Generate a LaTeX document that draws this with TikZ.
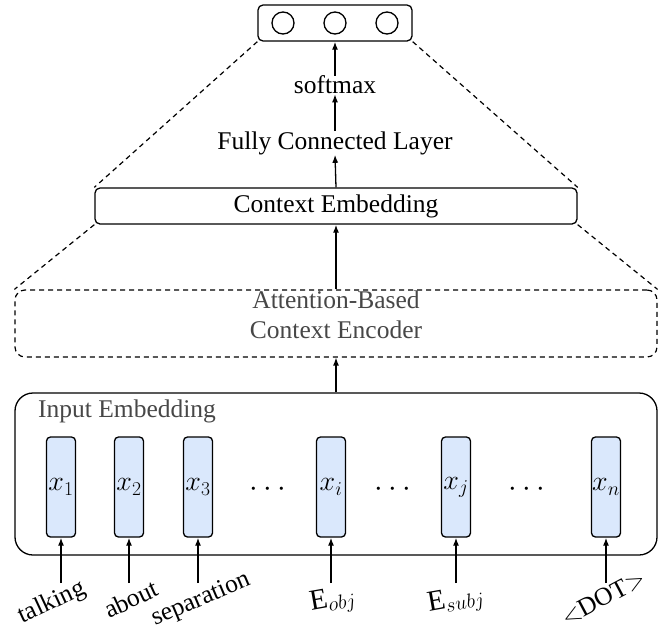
\RequirePackage{fix-cm}
\documentclass[tikz,border=0pt]{standalone}
\usepackage{fontspec}
\setmainfont{Liberation Serif}
\usetikzlibrary{arrows.meta}
\definecolor{tokfill}{HTML}{DAE8FC}
\definecolor{graytext}{HTML}{474747}
\tikzset{
  conn/.style={-{Latex[length=8pt,width=6pt]}, line width=1.3pt},
  dashline/.style={line width=1.2pt, dash pattern=on 5pt off 4pt},
  solidbox/.style={draw, line width=1.3pt, rounded corners=5pt, inner sep=0pt, fill=white},
  tokbox/.style={draw, line width=1.3pt, rounded corners=4pt, fill=tokfill, minimum width=29pt, minimum height=100pt, inner sep=0pt, font=\fontsize{28}{32}\selectfont},
  outcirc/.style={draw, circle, line width=1.3pt, minimum size=22pt, inner sep=0pt},
  lbl/.style={inner sep=0pt},
  biglbl/.style={inner sep=0pt, font=\fontsize{29}{32}\selectfont},
  dotsnode/.style={inner sep=0pt, font=\fontsize{31}{34}\selectfont},
}
\begin{document}
\begin{tikzpicture}[x=1pt, y=-1pt, font=\fontsize{25.5}{30}\selectfont]
\useasboundingbox (0,0) rectangle (672,630);

% output box
\node[solidbox, minimum width=154pt, minimum height=36pt] (out) at (335,23) {};
\node[outcirc] (c1) at (283,23) {};
\node[outcirc] (c2) at (335,23) {};
\node[outcirc] (c3) at (387,23) {};

\node[lbl] (sm) at (335,85) {softmax};
\node[lbl] (fc) at (335,143) {Fully Connected Layer};

\node[solidbox, minimum width=482pt, minimum height=36pt] (ce) at (336,206) {Context Embedding};

\node[draw, dashline, rounded corners=10pt, minimum width=642pt, minimum height=67pt, inner sep=0pt] (enc) at (336,323.5) {};
\node[lbl, align=center, text=graytext] (enct) at (336,315) {Attention-Based\\Context Encoder};

\node[draw, line width=1.3pt, rounded corners=18pt, minimum width=642pt, minimum height=162pt, inner sep=0pt] (inp) at (336,474) {};
\node[lbl, text=graytext, anchor=west] (inpt) at (38,411) {Input Embedding};

% tokens
\node[tokbox] (x1) at (61,487) {$x_1$};
\node[tokbox] (x2) at (129,487) {$x_2$};
\node[tokbox] (x3) at (198,487) {$x_3$};
\node[tokbox] (xi) at (331,487) {$x_i$};
\node[tokbox] (xj) at (456,487) {$x_j$};
\node[tokbox] (xn) at (606,487) {$x_n$};

\node[dotsnode] (d1) at (268,490) {$\cdots$};
\node[dotsnode] (d2) at (393,490) {$\cdots$};
\node[dotsnode] (d3) at (527,490) {$\cdots$};

% input arrows
\coordinate (b1) at (61,583);
\coordinate (b2) at (129,583);
\coordinate (b3) at (198,583);
\coordinate (bi) at (331,583);
\coordinate (bj) at (456,583);
\coordinate (bn) at (606,583);
\draw[conn] (b1) -- (x1.south);
\draw[conn] (b2) -- (x2.south);
\draw[conn] (b3) -- (x3.south);
\draw[conn] (bi) -- (xi.south);
\draw[conn] (bj) -- (xj.south);
\draw[conn] (bn) -- (xn.south);

\node[lbl, rotate=25] (l1) at (52,603) {talking};
\node[lbl, rotate=25] (l2) at (131,599) {about};
\node[lbl, rotate=23] (l3) at (201,600) {separation};
\node[biglbl, rotate=10] (li) at (333,601) {$\mathrm{E}_{obj}$};
\node[biglbl, rotate=10] (lj) at (456,601) {$\mathrm{E}_{subj}$};
\node[lbl, rotate=28] (ln) at (603,598) {$<$DOT$>$};

% vertical arrows
\draw[conn] (inp.north) -- (enc.south);
\draw[conn] (enc.north) -- (ce.south);
\draw[conn] (ce.north) -- (fc.south);
\draw[conn] (fc.north) -- (sm.south);
\draw[conn] (sm.north) -- (out.south);

% dashed fan lines
\draw[dashline] (out.south west) -- (ce.north west);
\draw[dashline] (out.south east) -- (ce.north east);
\draw[dashline] (ce.south west) -- (enc.north west);
\draw[dashline] (ce.south east) -- (enc.north east);
\end{tikzpicture}
\end{document}
